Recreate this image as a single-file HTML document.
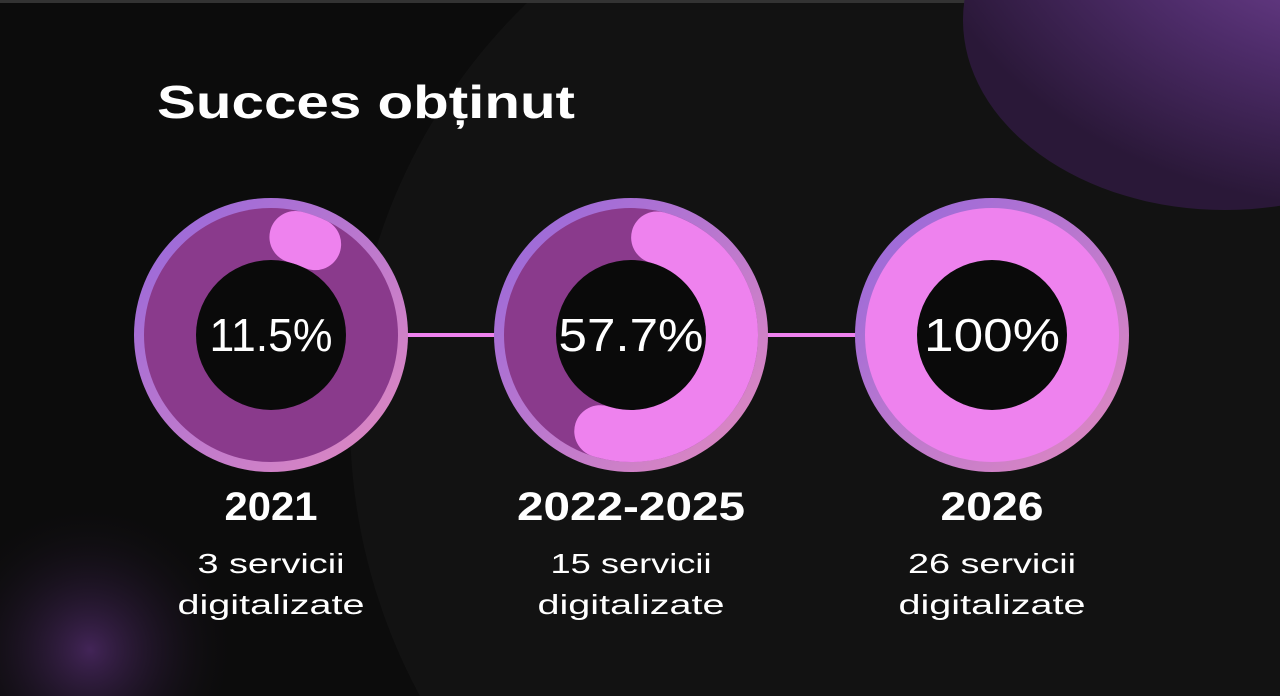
<!DOCTYPE html>
<html><head><meta charset="utf-8"><style>
html,body{margin:0;padding:0;background:#0c0c0c;overflow:hidden;width:1280px;height:696px}
svg{display:block}
</style></head><body>
<svg width="1280" height="696" viewBox="0 0 1280 696" xmlns="http://www.w3.org/2000/svg">
<defs>
<linearGradient id="ring" x1="0" y1="0" x2="1" y2="1">
<stop offset="0" stop-color="#9466dc"/><stop offset="1" stop-color="#e38ac0"/>
</linearGradient>
<radialGradient id="blob" cx="0.8" cy="0.1" r="0.9">
<stop offset="0" stop-color="#8a50b0"/><stop offset="0.6" stop-color="#4e2c6a"/><stop offset="1" stop-color="#2a1838"/>
</radialGradient>
<radialGradient id="blob2" cx="0.5" cy="0.5" r="0.5">
<stop offset="0" stop-color="#5a2f78" stop-opacity="0.7"/><stop offset="1" stop-color="#0c0c0c" stop-opacity="0"/>
</radialGradient>
</defs>
<rect width="1280" height="696" fill="#0c0c0c"/>
<circle cx="930" cy="420" r="580" fill="#121212"/>
<rect width="1280" height="3" fill="#333"/>
<ellipse cx="1225" cy="20" rx="262" ry="190" fill="url(#blob)"/>
<circle cx="90" cy="650" r="150" fill="url(#blob2)"/>
<text x="157" y="118" font-family="Liberation Sans, sans-serif" font-weight="bold" font-size="46" fill="#fff" textLength="418" lengthAdjust="spacingAndGlyphs">Succes obținut</text>
<line x1="405" y1="335" x2="497" y2="335" stroke="#ee82ee" stroke-width="4"/>
<line x1="765" y1="335" x2="858" y2="335" stroke="#ee82ee" stroke-width="4"/>
<g>
<circle cx="271" cy="335" r="137" fill="url(#ring)"/>
<circle cx="271" cy="335" r="127" fill="#8a3a8c"/>
<circle cx="271" cy="335" r="75" fill="#0a0a0a"/>
<circle cx="271" cy="335" r="101" fill="none" stroke="#ee82ee" stroke-width="52" stroke-linecap="round" stroke-dasharray="21 1000" transform="rotate(-76 271 335)"/>
</g>
<g>
<circle cx="631" cy="335" r="137" fill="url(#ring)"/>
<circle cx="631" cy="335" r="127" fill="#8a3a8c"/>
<circle cx="631" cy="335" r="75" fill="#0a0a0a"/>
<circle cx="631" cy="335" r="101" fill="none" stroke="#ee82ee" stroke-width="52" stroke-linecap="round" stroke-dasharray="322 1000" transform="rotate(-75 631 335)"/>
</g>
<g>
<circle cx="992" cy="335" r="137" fill="url(#ring)"/>
<circle cx="992" cy="335" r="127" fill="#ee82ee"/>
<circle cx="992" cy="335" r="75" fill="#0a0a0a"/>
</g>
<g font-family="Liberation Sans, sans-serif" fill="#fff" text-anchor="middle" lengthAdjust="spacingAndGlyphs">
<text x="271" y="351" font-size="46" textLength="123" lengthAdjust="spacingAndGlyphs">11.5%</text>
<text x="631" y="351" font-size="46" textLength="145" lengthAdjust="spacingAndGlyphs">57.7%</text>
<text x="992" y="351" font-size="46" textLength="136" lengthAdjust="spacingAndGlyphs">100%</text>
<text x="271" y="520" font-size="40" font-weight="bold" textLength="93" lengthAdjust="spacingAndGlyphs">2021</text>
<text x="631" y="520" font-size="40" font-weight="bold" textLength="228" lengthAdjust="spacingAndGlyphs">2022-2025</text>
<text x="992" y="520" font-size="40" font-weight="bold" textLength="103" lengthAdjust="spacingAndGlyphs">2026</text>
<g font-size="28">
<text x="271" y="573" textLength="147" lengthAdjust="spacingAndGlyphs">3 servicii</text>
<text x="271" y="614" textLength="187" lengthAdjust="spacingAndGlyphs">digitalizate</text>
<text x="631" y="573" textLength="161" lengthAdjust="spacingAndGlyphs">15 servicii</text>
<text x="631" y="614" textLength="187" lengthAdjust="spacingAndGlyphs">digitalizate</text>
<text x="992" y="573" textLength="168" lengthAdjust="spacingAndGlyphs">26 servicii</text>
<text x="992" y="614" textLength="187" lengthAdjust="spacingAndGlyphs">digitalizate</text>
</g>
</g>
</svg>
</body></html>
